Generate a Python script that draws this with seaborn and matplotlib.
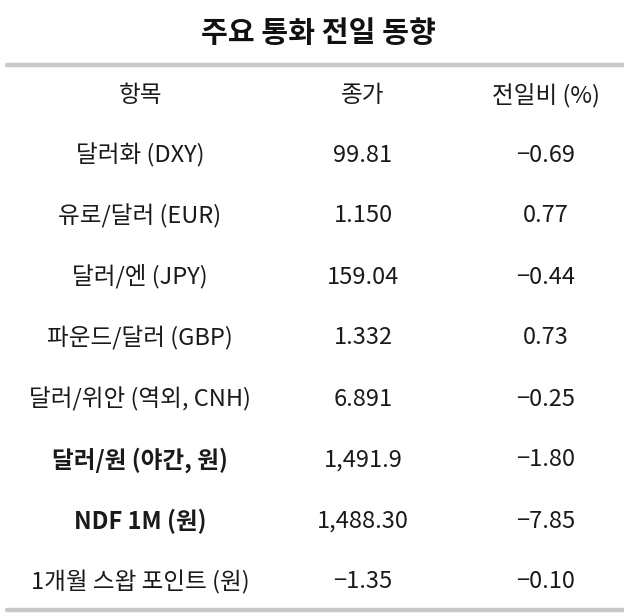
import matplotlib
matplotlib.use("Agg")
import matplotlib.pyplot as plt
import seaborn as sns

title = "주요 통화 전일 동향"
headers = ["항목", "종가", "전일비 (%)"]
items = ["달러화 (DXY)", "유로/달러 (EUR)", "달러/엔 (JPY)", "파운드/달러 (GBP)",
         "달러/위안 (역외, CNH)", "달러/원 (야간, 원)", "NDF 1M (원)", "1개월 스왑 포인트 (원)"]
closes = ["99.81", "1.150", "159.04", "1.332", "6.891", "1,491.9", "1,488.30", "-1.35"]
changes = ["-0.69", "0.77", "-0.44", "0.73", "-0.25", "-1.80", "-7.85", "-0.10"]
bold_rows = [5, 6]

sns.set_theme(style="white")
plt.rcParams['font.family'] = ['Noto Sans CJK KR', 'DejaVu Sans']

fig = plt.figure(figsize=(6.24, 6.13), dpi=100)
ax = fig.add_axes([0, 0, 1, 1])
ax.set_xlim(0, 624)
ax.set_ylim(613, 0)
ax.axis("off")

ax.text(318, 33, title, ha="center", va="center", fontsize=21, fontweight="bold", color="#111111")
sns.lineplot(x=[7, 624], y=[65, 65], ax=ax, color="#c8c8c8", linewidth=3.2)
sns.lineplot(x=[7, 624], y=[610, 610], ax=ax, color="#c8c8c8", linewidth=3.2)

cols = [140, 363, 546]
for x, h in zip(cols, headers):
    ax.text(x, 96, h, ha="center", va="center", fontsize=17, color="#1a1a1a")

y0, dy = 155, 61
for i, (a, b, c) in enumerate(zip(items, closes, changes)):
    y = y0 + i * dy
    w = "bold" if i in bold_rows else "normal"
    ax.text(cols[0], y, a, ha="center", va="center", fontsize=17, fontweight=w, color="#1a1a1a")
    ax.text(cols[1], y, b.replace("-", "\u2212"), ha="center", va="center", fontsize=17, color="#1a1a1a")
    ax.text(cols[2], y, c.replace("-", "\u2212"), ha="center", va="center", fontsize=17, color="#1a1a1a")

fig.savefig("out.png", dpi=100, facecolor="white")
